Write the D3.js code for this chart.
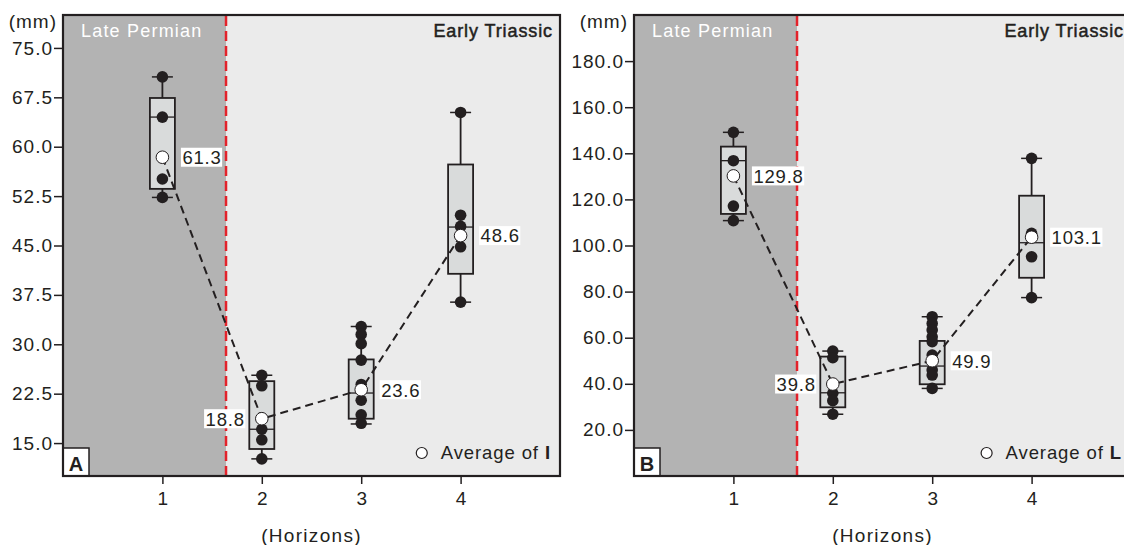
<!DOCTYPE html>
<html>
<head>
<meta charset="utf-8">
<script src="https://cdn.jsdelivr.net/npm/d3@7"></script>
<style>
  body { margin: 0; background: #fff; }
  text { font-family: "Liberation Sans", Arial, sans-serif; }
</style>
</head>
<body>
<div id="chart"></div>
<script>
// horizons on the x axis
var horizons = [1, 2, 3, 4];
var periodSplit = 1.64; // boundary between Late Permian / Early Triassic

// panel A (l)
var ticksA = [15, 22.5, 30, 37.5, 45, 52.5, 60, 67.5, 75];
var pointsA = [
  [70.6, 64.5, 55.1, 52.3],
  [25.3, 23.7, 17.1, 15.5, 12.6],
  [32.7, 31.5, 30.1, 27.6, 23.9, 21.5, 19.3, 18.0],
  [65.2, 49.6, 47.9, 44.8, 36.4]
];
// min, q1, median, q3, max
var boxA = [
  [52.3, 53.6, 64.5, 67.4, 70.6],
  [12.6, 14.1, 17.1, 24.4, 25.3],
  [17.9, 18.7, 22.6, 27.7, 32.7],
  [36.4, 40.7, 47.8, 57.3, 65.2]
];
var meanA = [58.4, 18.7, 23.1, 46.5];
var meanLabelA = ["61.3", "18.8", "23.6", "48.6"];

// panel B (L)
var ticksB = [20, 40, 60, 80, 100, 120, 140, 160, 180];
var pointsB = [
  [149.1, 136.8, 117.1, 110.8],
  [54.2, 51.3, 35.9, 32.7, 26.8],
  [69.1, 66.2, 63.3, 60.4, 58.3, 52.5, 46.0, 43.8, 38.0],
  [137.8, 105.3, 103.6, 95.1, 77.4]
];
var boxB = [
  [110.8, 113.7, 136.8, 142.9, 149.1],
  [26.8, 29.8, 36.1, 51.8, 54.2],
  [38.0, 39.8, 47.7, 58.6, 69.1],
  [77.4, 86.0, 101.2, 121.6, 137.8]
];
var meanB = [130.2, 39.9, 50.0, 103.6];
var meanLabelB = ["129.8", "39.8", "49.9", "103.1"];

var ink = "#231f20";
var top_ = 15, bottom_ = 476, panelW = 497;

var svg = d3.select("#chart").append("svg")
  .attr("width", 1124)
  .attr("height", 545);

function drawPanel(p) {
  var left = p.left, right = left + panelW;
  var x = d3.scaleLinear().domain([0, 5]).range([left, right]);
  var y = d3.scaleLinear().domain(p.yDomain).range([bottom_, top_]);
  var g = svg.append("g");
  var split = x(periodSplit);

  // backgrounds
  g.append("rect")
    .attr("x", left).attr("y", top_)
    .attr("width", split - left).attr("height", bottom_ - top_)
    .attr("fill", "#b3b3b3");
  g.append("rect")
    .attr("x", split).attr("y", top_)
    .attr("width", right - split).attr("height", bottom_ - top_)
    .attr("fill", "#ebebeb");

  g.append("line")
    .attr("x1", split).attr("x2", split)
    .attr("y1", top_ + 1).attr("y2", bottom_)
    .attr("stroke", "#e3222b")
    .attr("stroke-width", 2.5)
    .attr("stroke-dasharray", "10,5");

  g.append("text")
    .attr("x", left + 18).attr("y", 37)
    .attr("font-size", 18).attr("letter-spacing", 1.2)
    .attr("fill", "#fff")
    .text("Late Permian");

  g.append("text")
    .attr("x", right - 7).attr("y", 37)
    .attr("text-anchor", "end")
    .attr("font-size", 18).attr("letter-spacing", 0.9)
    .attr("fill", ink).attr("stroke", ink).attr("stroke-width", 0.5)
    .text("Early Triassic");

  // boxes
  var bw = 25, cw = 21;
  var boxes = g.selectAll(".box")
    .data(p.box)
    .enter().append("g")
      .attr("class", "box")
      .attr("transform", function(d, i) { return "translate(" + x(horizons[i]) + ",0)"; });

  boxes.append("line")
    .attr("y1", function(d) { return y(d[4]); })
    .attr("y2", function(d) { return y(d[0]); })
    .attr("stroke", ink).attr("stroke-width", 1.8);
  boxes.append("line")
    .attr("x1", -cw / 2).attr("x2", cw / 2)
    .attr("y1", function(d) { return y(d[4]); })
    .attr("y2", function(d) { return y(d[4]); })
    .attr("stroke", ink).attr("stroke-width", 1.5);
  boxes.append("line")
    .attr("x1", -cw / 2).attr("x2", cw / 2)
    .attr("y1", function(d) { return y(d[0]); })
    .attr("y2", function(d) { return y(d[0]); })
    .attr("stroke", ink).attr("stroke-width", 1.5);
  boxes.append("rect")
    .attr("x", -bw / 2).attr("width", bw)
    .attr("y", function(d) { return y(d[3]); })
    .attr("height", function(d) { return y(d[1]) - y(d[3]); })
    .attr("fill", "#d9dbdb")
    .attr("stroke", ink).attr("stroke-width", 1.8);
  boxes.append("line")
    .attr("x1", -bw / 2).attr("x2", bw / 2)
    .attr("y1", function(d) { return y(d[2]); })
    .attr("y2", function(d) { return y(d[2]); })
    .attr("stroke", ink).attr("stroke-width", 1.3);

  // dashed line through the means
  var line = d3.line()
    .x(function(d, i) { return x(horizons[i]); })
    .y(function(d) { return y(d); });
  g.append("path")
    .datum(p.mean)
    .attr("d", line)
    .attr("fill", "none")
    .attr("stroke", ink)
    .attr("stroke-width", 2)
    .attr("stroke-dasharray", "8,5");

  // raw points
  p.points.forEach(function(arr, i) {
    g.selectAll(null)
      .data(arr)
      .enter().append("circle")
        .attr("cx", x(horizons[i]))
        .attr("cy", function(d) { return y(d); })
        .attr("r", 5.8)
        .attr("fill", ink);
  });

  // means
  g.selectAll(".mean")
    .data(p.mean)
    .enter().append("circle")
      .attr("class", "mean")
      .attr("cx", function(d, i) { return x(horizons[i]); })
      .attr("cy", function(d) { return y(d); })
      .attr("r", 6.3)
      .attr("fill", "#fff")
      .attr("stroke", ink).attr("stroke-width", 1);

  // mean labels with white background
  p.mean.forEach(function(m, i) {
    var cx = x(horizons[i]), cy = y(m);
    var lg = g.append("g");
    var bg = lg.append("rect").attr("fill", "#fff");
    var t = lg.append("text")
      .attr("y", cy + 6.8)
      .attr("font-size", 18.5).attr("letter-spacing", 0.8)
      .attr("fill", ink)
      .text(p.meanLabel[i]);
    var w = t.node().getComputedTextLength();
    var tx = i === 1 ? cx - 17 - w : cx + 20;
    t.attr("x", tx);
    bg.attr("x", tx - 1.5).attr("y", cy - 9.5)
      .attr("width", w + 2).attr("height", 19);
  });

  // axes
  var yAxis = g.append("g")
    .attr("transform", "translate(" + left + ",0)")
    .call(d3.axisLeft(y).tickValues(p.ticks).tickSize(9).tickPadding(1)
      .tickFormat(function(d) { return d.toFixed(1); }));
  yAxis.select(".domain").remove();
  yAxis.selectAll("line").attr("stroke", ink).attr("stroke-width", 1.5);
  yAxis.selectAll("text")
    .attr("font-size", 19).attr("letter-spacing", 1)
    .attr("font-family", "Liberation Sans, Arial, sans-serif")
    .attr("fill", ink);

  var xAxis = g.append("g")
    .attr("transform", "translate(0," + bottom_ + ")")
    .call(d3.axisBottom(x).tickValues(horizons).tickSize(8).tickPadding(8)
      .tickFormat(d3.format("d")));
  xAxis.select(".domain").remove();
  xAxis.selectAll("line").attr("stroke", ink).attr("stroke-width", 1.5);
  xAxis.selectAll("text")
    .attr("font-size", 19)
    .attr("font-family", "Liberation Sans, Arial, sans-serif")
    .attr("fill", ink);

  g.append("text")
    .attr("x", left - 6).attr("y", 28)
    .attr("text-anchor", "end")
    .attr("font-size", 19).attr("letter-spacing", 1)
    .attr("fill", ink)
    .text("(mm)");

  g.append("text")
    .attr("x", (left + right) / 2).attr("y", 542)
    .attr("text-anchor", "middle")
    .attr("font-size", 19).attr("letter-spacing", 1.3)
    .attr("fill", ink)
    .text("(Horizons)");

  // legend
  var leg = g.append("text")
    .attr("x", right - 9).attr("y", 459)
    .attr("text-anchor", "end")
    .attr("font-size", 18.5).attr("letter-spacing", 0.9)
    .attr("fill", ink);
  leg.append("tspan").text("Average of ");
  leg.append("tspan").attr("font-weight", "bold").text(p.symbol);
  var lw = leg.node().getComputedTextLength();
  g.append("circle")
    .attr("cx", right - 9 - lw - 19).attr("cy", 453)
    .attr("r", 5.5)
    .attr("fill", "#fff")
    .attr("stroke", ink).attr("stroke-width", 1.2);

  // panel letter
  g.append("rect")
    .attr("x", left).attr("y", 448)
    .attr("width", 26).attr("height", bottom_ - 448)
    .attr("fill", "#fff")
    .attr("stroke", ink).attr("stroke-width", 1.5);
  g.append("text")
    .attr("x", left + 13).attr("y", 471)
    .attr("text-anchor", "middle")
    .attr("font-size", 20).attr("font-weight", "bold")
    .attr("fill", ink)
    .text(p.letter);

  // frame
  g.append("rect")
    .attr("x", left).attr("y", top_)
    .attr("width", panelW).attr("height", bottom_ - top_)
    .attr("fill", "none")
    .attr("stroke", ink).attr("stroke-width", 2.2);
}

drawPanel({ left: 63, yDomain: [10, 80], ticks: ticksA, points: pointsA, box: boxA,
  mean: meanA, meanLabel: meanLabelA, symbol: "I", letter: "A" });
drawPanel({ left: 634, yDomain: [0, 200], ticks: ticksB, points: pointsB, box: boxB,
  mean: meanB, meanLabel: meanLabelB, symbol: "L", letter: "B" });
</script>
</body>
</html>
